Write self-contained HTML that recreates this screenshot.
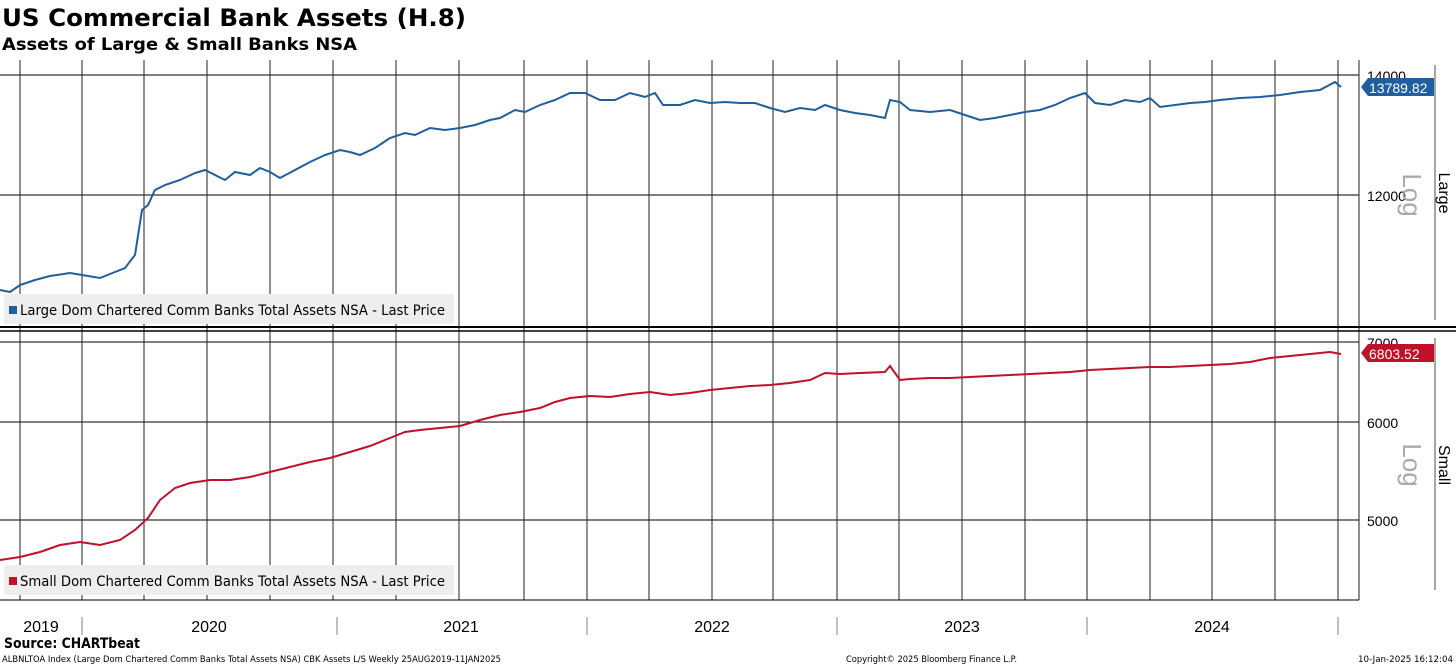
<!DOCTYPE html>
<html><head><style>
body{margin:0;background:#fff;}
svg{display:block;font-family:"Liberation Sans","DejaVu Sans",sans-serif;}
</style></head><body>
<svg width="1456" height="665" viewBox="0 0 1456 665" xmlns="http://www.w3.org/2000/svg">
<rect width="1456" height="665" fill="#fff"/>
<text x="2" y="26" font-size="24" font-weight="bold" fill="#000" font-family="DejaVu Sans, sans-serif" textLength="464" lengthAdjust="spacingAndGlyphs">US Commercial Bank Assets (H.8)</text>
<text x="2" y="50" font-size="17" font-weight="bold" fill="#000" font-family="DejaVu Sans, sans-serif" textLength="355" lengthAdjust="spacingAndGlyphs">Assets of Large &amp; Small Banks NSA</text>
<g stroke="#000" stroke-width="1">
<line x1="0" y1="75" x2="1359" y2="75"/><line x1="0" y1="195" x2="1359" y2="195"/>
<line x1="0" y1="342" x2="1359" y2="342"/><line x1="0" y1="422" x2="1359" y2="422"/><line x1="0" y1="520" x2="1359" y2="520"/>
</g>
<g stroke="#222" stroke-width="1">
<line x1="20" y1="60" x2="20" y2="600"/><line x1="82" y1="60" x2="82" y2="600"/><line x1="144" y1="60" x2="144" y2="600"/><line x1="207" y1="60" x2="207" y2="600"/><line x1="270" y1="60" x2="270" y2="600"/><line x1="333" y1="60" x2="333" y2="600"/><line x1="396" y1="60" x2="396" y2="600"/><line x1="459" y1="60" x2="459" y2="600"/><line x1="524" y1="60" x2="524" y2="600"/><line x1="587" y1="60" x2="587" y2="600"/><line x1="649" y1="60" x2="649" y2="600"/><line x1="712" y1="60" x2="712" y2="600"/><line x1="773" y1="60" x2="773" y2="600"/><line x1="837" y1="60" x2="837" y2="600"/><line x1="899" y1="60" x2="899" y2="600"/><line x1="962" y1="60" x2="962" y2="600"/><line x1="1025" y1="60" x2="1025" y2="600"/><line x1="1087" y1="60" x2="1087" y2="600"/><line x1="1150" y1="60" x2="1150" y2="600"/><line x1="1212" y1="60" x2="1212" y2="600"/><line x1="1275" y1="60" x2="1275" y2="600"/><line x1="1338" y1="60" x2="1338" y2="600"/>
<line x1="1359" y1="60" x2="1359" y2="600"/>
</g>
<line x1="0" y1="327" x2="1456" y2="327" stroke="#000" stroke-width="2"/>
<line x1="0" y1="331" x2="1456" y2="331" stroke="#000" stroke-width="1.5"/>
<line x1="0" y1="600" x2="1359" y2="600" stroke="#000" stroke-width="1"/>
<rect x="4" y="294" width="450" height="30" fill="#eee"/>
<rect x="4" y="565" width="450" height="30" fill="#eee"/>
<rect x="9" y="306" width="8" height="8" fill="#1f5fa0"/>
<text x="20" y="315" font-size="14" fill="#000" font-family="DejaVu Sans, sans-serif" textLength="425" lengthAdjust="spacingAndGlyphs">Large Dom Chartered Comm Banks Total Assets NSA - Last Price</text>
<rect x="9" y="577" width="8" height="8" fill="#c0102a"/>
<text x="20" y="586" font-size="14" fill="#000" font-family="DejaVu Sans, sans-serif" textLength="425" lengthAdjust="spacingAndGlyphs">Small Dom Chartered Comm Banks Total Assets NSA - Last Price</text>
<polyline fill="none" stroke="#1f5fa0" stroke-width="2" points="0,290 10,292 20,285 35,280 50,276 70,273 82,275 100,278 115,272 125,268 135,255 142,210 148,205 155,190 165,185 180,180 195,173 205,170 215,175 225,180 235,172 250,175 260,168 270,172 280,178 295,170 310,162 325,155 340,150 350,152 360,155 375,148 390,138 405,133 415,135 430,128 445,130 460,128 475,125 490,120 500,118 515,110 525,112 540,105 555,100 570,93 585,93 600,100 615,100 630,93 645,97 655,93 663,105 680,105 695,100 710,103 725,102 740,103 755,103 770,108 785,112 800,108 815,110 825,105 840,110 855,113 870,115 885,118 890,100 900,102 910,110 930,112 950,110 965,115 980,120 995,118 1010,115 1025,112 1040,110 1055,105 1070,98 1085,93 1095,103 1110,105 1125,100 1140,102 1150,98 1160,107 1175,105 1190,103 1205,102 1220,100 1240,98 1260,97 1280,95 1300,92 1320,90 1335,82 1341,87"/>
<polyline fill="none" stroke="#c0102a" stroke-width="2" points="0,560 20,557 40,552 60,545 80,542 100,545 120,540 135,530 148,518 160,500 175,488 190,483 210,480 230,480 250,477 270,472 290,467 310,462 330,458 350,452 370,446 390,438 405,432 420,430 440,428 460,426 480,420 500,415 520,412 540,408 555,402 570,398 590,396 610,397 630,394 650,392 670,395 690,393 710,390 730,388 750,386 770,385 790,383 810,380 825,373 840,374 860,373 885,372 890,366 900,380 910,379 930,378 950,378 970,377 990,376 1010,375 1030,374 1050,373 1070,372 1090,370 1110,369 1130,368 1150,367 1170,367 1190,366 1210,365 1230,364 1250,362 1270,358 1290,356 1310,354 1330,352 1341,354"/>
<g font-size="14" fill="#000">
<text x="1367" y="81">14000</text><text x="1367" y="201">12000</text>
<text x="1367" y="348">7000</text><text x="1367" y="428">6000</text><text x="1367" y="526">5000</text>
</g>
<path d="M1361,87 L1368,78 L1434,78 L1434,96 L1368,96 Z" fill="#1f5fa0"/>
<text x="1369" y="93" font-size="14" fill="#fff">13789.82</text>
<path d="M1361,353 L1368,344 L1434,344 L1434,362 L1368,362 Z" fill="#c0102a"/>
<text x="1369" y="359" font-size="14" fill="#fff">6803.52</text>
<line x1="1435" y1="65" x2="1435" y2="320" stroke="#888" stroke-width="1.5"/>
<line x1="1435" y1="338" x2="1435" y2="590" stroke="#888" stroke-width="1.5"/>
<text transform="translate(1403,195) rotate(90)" font-size="26" fill="#aaa" text-anchor="middle">Log</text>
<text transform="translate(1403,465) rotate(90)" font-size="26" fill="#aaa" text-anchor="middle">Log</text>
<text transform="translate(1439,193) rotate(90)" font-size="16" fill="#000" text-anchor="middle">Large</text>
<text transform="translate(1439,465) rotate(90)" font-size="16" fill="#000" text-anchor="middle">Small</text>
<g stroke="#aaa" stroke-width="1.5">
<line x1="82" y1="617" x2="82" y2="635"/><line x1="337" y1="617" x2="337" y2="635"/><line x1="587" y1="617" x2="587" y2="635"/><line x1="837" y1="617" x2="837" y2="635"/><line x1="1087" y1="617" x2="1087" y2="635"/><line x1="1338" y1="617" x2="1338" y2="635"/>
</g>
<g font-size="16" fill="#000" text-anchor="middle">
<text x="41" y="632">2019</text><text x="209" y="632">2020</text><text x="461" y="632">2021</text><text x="712" y="632">2022</text><text x="962" y="632">2023</text><text x="1212" y="632">2024</text>
</g>
<text x="4" y="648" font-size="14" font-weight="bold" fill="#000" font-family="DejaVu Sans, sans-serif" textLength="136" lengthAdjust="spacingAndGlyphs">Source: CHARTbeat</text>
<text x="2" y="662" font-size="9" fill="#000" font-family="DejaVu Sans, sans-serif" textLength="499" lengthAdjust="spacingAndGlyphs">ALBNLTOA Index (Large Dom Chartered Comm Banks Total Assets NSA) CBK Assets L/S  Weekly 25AUG2019-11JAN2025</text>
<text x="846" y="662" font-size="9" fill="#000" font-family="DejaVu Sans, sans-serif" textLength="171" lengthAdjust="spacingAndGlyphs">Copyright© 2025 Bloomberg Finance L.P.</text>
<text x="1358" y="662" font-size="9" fill="#000" font-family="DejaVu Sans, sans-serif" textLength="95" lengthAdjust="spacingAndGlyphs">10-Jan-2025 16:12:04</text>
</svg>
</body></html>
